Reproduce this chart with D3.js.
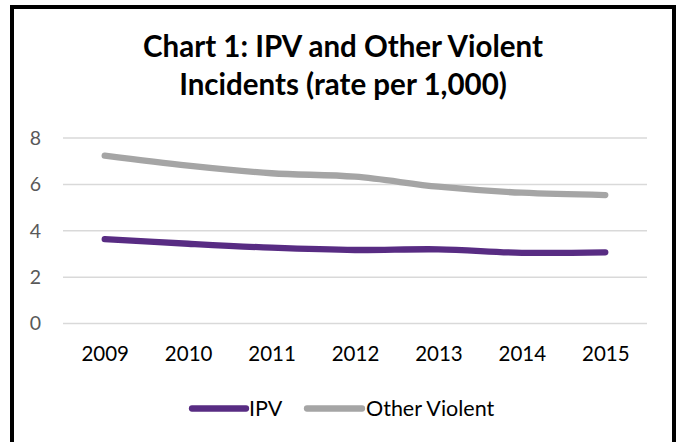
<!DOCTYPE html>
<html>
<head>
<meta charset="utf-8">
<script src="https://cdn.jsdelivr.net/npm/d3@7"></script>
<style>
  html, body { margin: 0; padding: 0; background: #fff; }
  svg { display: block; }
</style>
</head>
<body>
<svg id="chart" width="676" height="442"></svg>
<script>
const years = ["2009", "2010", "2011", "2012", "2013", "2014", "2015"];
const ipvValues = [3.64, 3.44, 3.27, 3.17, 3.20, 3.05, 3.07];
const otherViolentValues = [7.24, 6.81, 6.48, 6.33, 5.90, 5.64, 5.54];
const yTicks = [0, 2, 4, 6, 8];
const titleLines = ["Chart 1: IPV and Other Violent", "Incidents (rate per 1,000)"];
const seriesNames = ["IPV", "Other Violent"];
const seriesColors = ["#582C83", "#A5A5A5"];

const svg = d3.select("#chart");
const FONT = "Lato, 'Open Sans', sans-serif";

// white background + frame
svg.append("rect").attr("x", 0).attr("y", 0).attr("width", 676).attr("height", 442).attr("fill", "#fff");
svg.append("rect").attr("x", 12).attr("y", 7).attr("width", 662).attr("height", 440)
  .attr("fill", "none").attr("stroke", "#000").attr("stroke-width", 4);

// title
const cx = 343;
const titleBase = [57, 95];
const t1 = svg.append("text").attr("x", cx).attr("y", titleBase[0])
  .attr("text-anchor", "middle").attr("font-family", FONT).attr("font-weight", "bold")
  .attr("font-size", 100).attr("fill", "#000").text(titleLines[0]);
const w100 = t1.node().getComputedTextLength();
const titleSize = 100 * 400 / w100;
t1.attr("font-size", titleSize);
svg.append("text").attr("x", cx).attr("y", titleBase[1])
  .attr("text-anchor", "middle").attr("font-family", FONT).attr("font-weight", "bold")
  .attr("font-size", titleSize).attr("fill", "#000").text(titleLines[1]);

// scales
const x = d3.scalePoint().domain(years).range([63, 647]).padding(0.5);
const y = d3.scaleLinear().domain([0, 8]).range([323.5, 138]);

// gridlines
svg.append("g").selectAll("line").data(yTicks).join("line")
  .attr("x1", 63).attr("x2", 647)
  .attr("y1", d => y(d)).attr("y2", d => y(d))
  .attr("stroke", "#D9D9D9").attr("stroke-width", 1.5);

// y axis labels
const yAxis = d3.axisLeft(y).tickValues(yTicks).tickSize(0).tickPadding(0).tickFormat(d3.format("d"));
const gy = svg.append("g").attr("transform", "translate(41,0)").call(yAxis);
gy.select(".domain").remove();
gy.selectAll("text").attr("font-family", FONT).attr("font-size", 19.5).attr("fill", "#595959");

// x axis labels
const xAxis = d3.axisBottom(x).tickSize(0).tickPadding(0);
const gx = svg.append("g").attr("transform", "translate(0,340)").call(xAxis);
gx.select(".domain").remove();
gx.selectAll("text").attr("font-family", FONT).attr("font-size", 20.5).attr("fill", "#000").attr("dy", "1em");

// lines
const line = d3.line().x((d, i) => x(years[i])).y(d => y(d)).curve(d3.curveCatmullRom);
const series = [ipvValues, otherViolentValues];
series.forEach((vals, i) => {
  svg.append("path").datum(vals).attr("d", line)
    .attr("fill", "none").attr("stroke", seriesColors[i]).attr("stroke-width", 6.3)
    .attr("stroke-linecap", "round").attr("stroke-linejoin", "round");
});

// legend
const legendY = 408.5;
const legendItems = [
  { x1: 192, x2: 246, tx: 249 },
  { x1: 307, x2: 362, tx: 366 }
];
legendItems.forEach((it, i) => {
  svg.append("line").attr("x1", it.x1).attr("x2", it.x2).attr("y1", legendY).attr("y2", legendY)
    .attr("stroke", seriesColors[i]).attr("stroke-width", 6.3).attr("stroke-linecap", "round");
  svg.append("text").attr("x", it.tx).attr("y", 415.5).attr("font-family", FONT)
    .attr("font-size", 21.5).attr("fill", "#000").text(seriesNames[i]);
});
</script>
</body>
</html>
